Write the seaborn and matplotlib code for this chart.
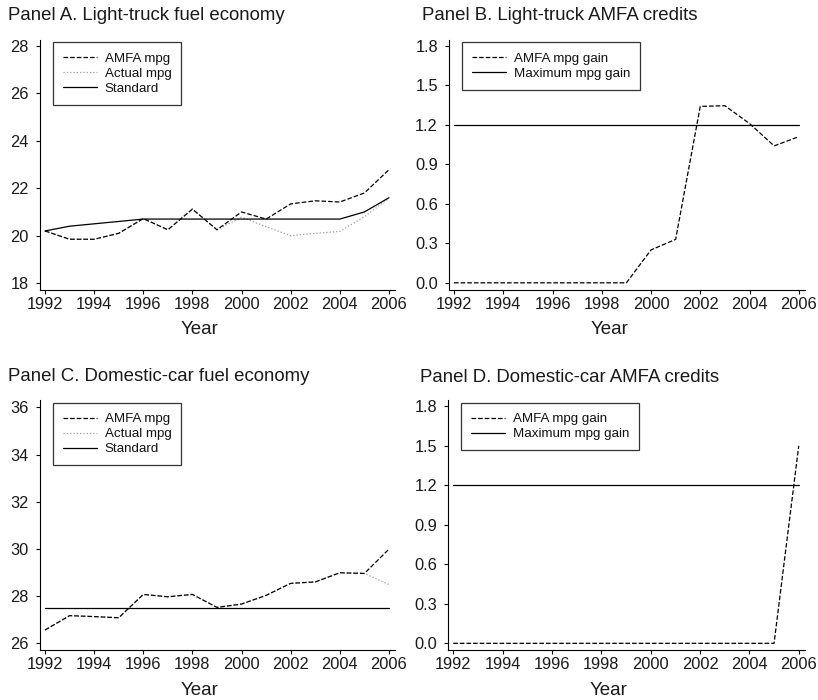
import matplotlib
matplotlib.use("Agg")
import matplotlib.pyplot as plt
import seaborn as sns

# Data
years = list(range(1992, 2007))

# Panel A: light-truck fuel economy
truck_amfa = [20.2, 19.85, 19.85, 20.1, 20.72, 20.25, 21.12, 20.25, 21.0, 20.7,
              21.34, 21.47, 21.42, 21.8, 22.78]
truck_actual = [20.2, 19.85, 19.85, 20.1, 20.72, 20.25, 21.12, 20.25, 20.78, 20.38,
                20.0, 20.1, 20.18, 20.8, 21.58]
truck_standard = [20.2, 20.4, 20.5, 20.6, 20.7, 20.7, 20.7, 20.7, 20.7, 20.7,
                  20.7, 20.7, 20.7, 21.0, 21.6]

# Panel B: light-truck AMFA credits
truck_gain = [0, 0, 0, 0, 0, 0, 0, 0, 0.25, 0.33, 1.34, 1.345, 1.21, 1.04, 1.11]
truck_max_gain = [1.2] * 15

# Panel C: domestic-car fuel economy
car_amfa = [26.56, 27.17, 27.13, 27.08, 28.07, 27.97, 28.07, 27.52, 27.66, 28.03,
            28.54, 28.6, 28.99, 28.96, 29.99]
car_actual = [26.56, 27.17, 27.13, 27.08, 28.07, 27.97, 28.07, 27.52, 27.66, 28.03,
              28.54, 28.6, 28.99, 28.96, 28.49]
car_standard = [27.5] * 15

# Panel D: domestic-car AMFA credits
car_gain = [0] * 14 + [1.5]
car_max_gain = [1.2] * 15

sns.set_theme(style="ticks")
plt.rcParams["font.family"] = ["Liberation Sans", "DejaVu Sans"]
plt.rcParams["axes.linewidth"] = 0.8
plt.rcParams["xtick.major.width"] = 0.8
plt.rcParams["ytick.major.width"] = 0.8
plt.rcParams["xtick.major.size"] = 3
plt.rcParams["ytick.major.size"] = 3
plt.rcParams["xtick.color"] = "black"
plt.rcParams["ytick.color"] = "black"
plt.rcParams["axes.edgecolor"] = "black"

fig = plt.figure(figsize=(8.18, 7.0), dpi=100)

ax_a = fig.add_axes([0.049, 0.586, 0.434, 0.357])
ax_b = fig.add_axes([0.549, 0.586, 0.435, 0.357])
ax_c = fig.add_axes([0.049, 0.071, 0.434, 0.357])
ax_d = fig.add_axes([0.548, 0.071, 0.436, 0.357])

DASH = (3, 2)
LW = 0.9
LEGEND_KW = dict(loc="upper left", bbox_to_anchor=(0.037, 0.99),
                 fontsize=9.6, frameon=True, fancybox=False,
                 handlelength=2.5, labelspacing=0.2, borderpad=0.75,
                 handletextpad=0.6, borderaxespad=0)


def style_legend(leg):
    leg.get_frame().set_edgecolor("black")
    leg.get_frame().set_linewidth(0.9)
    for t in leg.get_texts():
        t.set_color("#111111")


def draw_economy(ax, amfa, actual, standard):
    sns.lineplot(x=years, y=actual, ax=ax, color="#9a9a9a", linestyle=":",
                 linewidth=LW, label="Actual mpg")
    sns.lineplot(x=years, y=amfa, ax=ax, color="black", linestyle="--",
                 dashes=DASH, linewidth=LW, label="AMFA mpg")
    sns.lineplot(x=years, y=standard, ax=ax, color="black", linewidth=LW,
                 label="Standard")
    handles, labels = ax.get_legend_handles_labels()
    order = [1, 0, 2]
    leg = ax.legend([handles[i] for i in order], [labels[i] for i in order],
                    **LEGEND_KW)
    style_legend(leg)


def draw_credits(ax, gain, max_gain):
    sns.lineplot(x=years, y=gain, ax=ax, color="black", linestyle="--",
                 dashes=DASH, linewidth=LW, label="AMFA mpg gain")
    sns.lineplot(x=years, y=max_gain, ax=ax, color="black", linewidth=LW,
                 label="Maximum mpg gain")
    style_legend(ax.legend(**LEGEND_KW))


draw_economy(ax_a, truck_amfa, truck_actual, truck_standard)
draw_credits(ax_b, truck_gain, truck_max_gain)
draw_economy(ax_c, car_amfa, car_actual, car_standard)
draw_credits(ax_d, car_gain, car_max_gain)

ax_a.set_ylim(17.72, 28.25)
ax_a.set_yticks([18, 20, 22, 24, 26, 28])
ax_c.set_ylim(25.7, 36.3)
ax_c.set_yticks([26, 28, 30, 32, 34, 36])
for ax in (ax_b, ax_d):
    ax.set_ylim(-0.053, 1.845)
    ax.set_yticks([0.0, 0.3, 0.6, 0.9, 1.2, 1.5, 1.8])
    ax.set_yticklabels(["0.0", "0.3", "0.6", "0.9", "1.2", "1.5", "1.8"])

for ax in (ax_a, ax_b, ax_c, ax_d):
    ax.set_xlim(1991.8, 2006.25)
    ax.set_xticks(list(range(1992, 2007, 2)))
    ax.tick_params(axis="both", labelsize=11.8, labelcolor="#1a1a1a")
    ax.tick_params(axis="x", pad=2)
    ax.tick_params(axis="y", pad=5)
    ax.set_xlabel("Year", fontsize=13.5, color="#1a1a1a")
    ax.xaxis.set_label_coords(0.45, -0.125)
    ax.set_ylabel("")
    sns.despine(ax=ax)

TITLE_KW = dict(fontsize=13.4, color="#1a1a1a", va="center")
fig.text(0.010, 0.978, "Panel A. Light-truck fuel economy", **TITLE_KW)
fig.text(0.516, 0.978, "Panel B. Light-truck AMFA credits", **TITLE_KW)
fig.text(0.010, 0.462, "Panel C. Domestic-car fuel economy", **TITLE_KW)
fig.text(0.513, 0.460, "Panel D. Domestic-car AMFA credits", **TITLE_KW)

fig.savefig("out.png", dpi=100)
